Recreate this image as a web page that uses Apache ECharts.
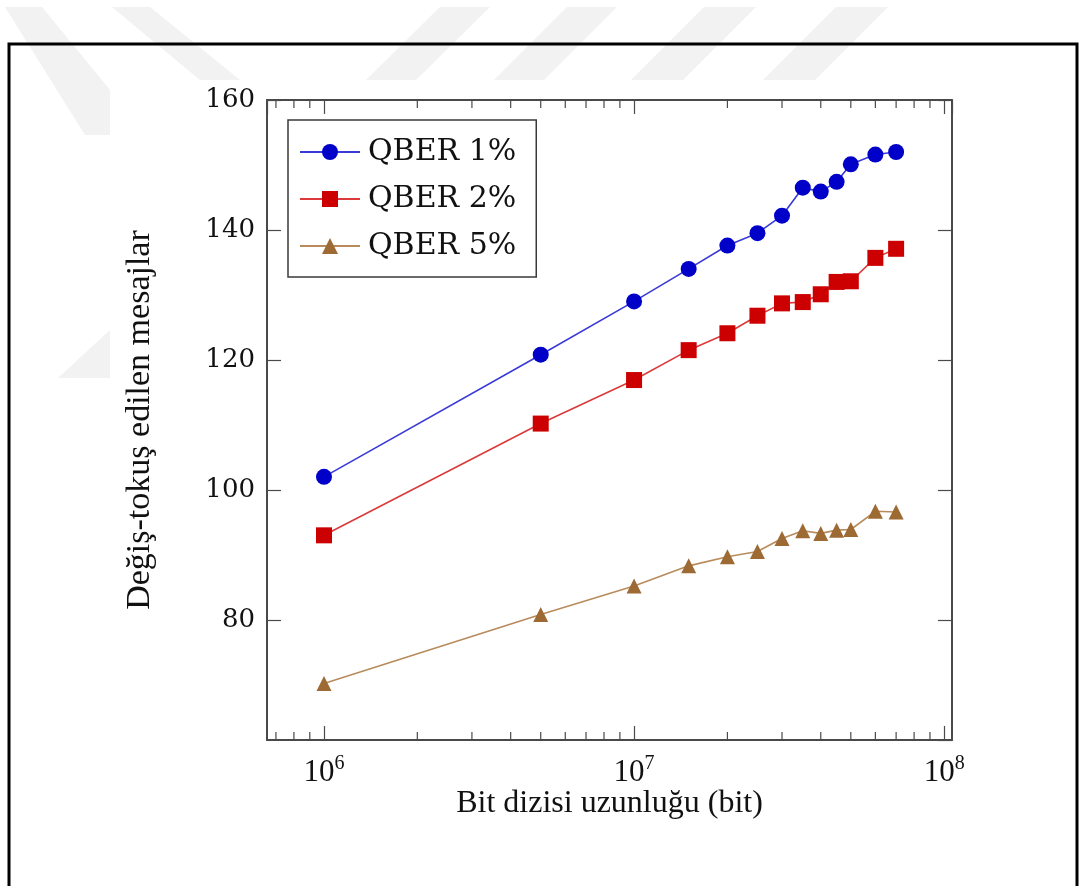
<!DOCTYPE html>
<html>
<head>
<meta charset="utf-8">
<script src="https://cdn.jsdelivr.net/npm/echarts@6/dist/echarts.min.js"></script>
<style>
  html, body { margin: 0; padding: 0; background: #fff; }
  #chart { width: 1086px; height: 886px; }
</style>
</head>
<body>
<div id="chart"></div>
<script>
// veriler
const bitLengths = [1e6, 5e6, 1e7, 1.5e7, 2e7, 2.5e7, 3e7, 3.5e7, 4e7, 4.5e7, 5e7, 6e7, 7e7];
const qber1 = [102.0, 120.8, 129.0, 134.0, 137.6, 139.5, 142.2, 146.5, 145.9, 147.4, 150.1, 151.6, 152.0];
const qber2 = [93.0, 110.2, 116.9, 121.5, 124.1, 126.8, 128.7, 128.9, 130.1, 132.0, 132.1, 135.7, 137.1];
const qber5 = [70.2, 80.8, 85.2, 88.3, 89.7, 90.5, 92.5, 93.7, 93.3, 93.8, 93.9, 96.7, 96.6];
const seriesNames = ['QBER 1%', 'QBER 2%', 'QBER 5%'];
// log eksenin ara (minor) tick degerleri
const minorTicks = [7e5, 8e5, 9e5,
  2e6, 3e6, 4e6, 5e6, 6e6, 7e6, 8e6, 9e6,
  2e7, 3e7, 4e7, 5e7, 6e7, 7e7, 8e7, 9e7];

const X_MIN = 6.55e5, X_MAX = 1.06e8;
const Y_MIN = 61.5, Y_MAX = 160;
const axisColor = '#4a4a4a';
const serif = 'DejaVu Serif';
const times = 'Liberation Serif';
const wm = '#f2f2f2';

const chart = echarts.init(document.getElementById('chart'));

const pair = (ys) => bitLengths.map((x, i) => [x, ys[i]]);

// 1. eksenler (alt/ust, sol/sag) cerceveyi olusturur
const xAxisBase = {
  type: 'log', logBase: 10, min: X_MIN, max: X_MAX,
  axisLine: { show: true, onZero: false, lineStyle: { color: axisColor, width: 2 } },
  axisTick: { show: true, inside: true, length: 14, lineStyle: { color: axisColor, width: 1.2 } },
  splitLine: { show: false }
};
const yAxisBase = {
  type: 'value', min: Y_MIN, max: Y_MAX, splitNumber: 5,
  axisLine: { show: true, lineStyle: { color: axisColor, width: 2 } },
  axisTick: { show: true, inside: true, length: 14, lineStyle: { color: axisColor, width: 1.2 } },
  splitLine: { show: false }
};

const option = {
  animation: false,
  backgroundColor: '#fff',
  graphic: [
    // soluk filigran seritleri
    { type: 'polygon', z: -10, shape: { points: [[5, 7], [42, 7], [110, 90], [110, 135], [85, 135]] }, style: { fill: wm } },
    { type: 'polygon', z: -10, shape: { points: [[112, 7], [150, 7], [240, 80], [200, 80]] }, style: { fill: wm } },
    { type: 'polygon', z: -10, shape: { points: [[440, 7], [490, 7], [416, 80], [366, 80]] }, style: { fill: wm } },
    { type: 'polygon', z: -10, shape: { points: [[567, 7], [617, 7], [544, 80], [494, 80]] }, style: { fill: wm } },
    { type: 'polygon', z: -10, shape: { points: [[704, 7], [756, 7], [683, 80], [631, 80]] }, style: { fill: wm } },
    { type: 'polygon', z: -10, shape: { points: [[836, 7], [888, 7], [815, 80], [763, 80]] }, style: { fill: wm } },
    { type: 'polygon', z: -10, shape: { points: [[110, 330], [110, 378], [58, 378]] }, style: { fill: wm } },
    // dis siyah cerceve
    { type: 'rect', z: -5, shape: { x: 9, y: 44, width: 1068, height: 900 }, style: { fill: 'none', stroke: '#000', lineWidth: 3 } }
  ],
  grid: { left: 267, right: 134, top: 100, bottom: 146 },
  legend: {
    data: seriesNames,
    orient: 'vertical',
    left: 288, top: 120,
    padding: [16, 20, 15, 11],
    itemWidth: 60, itemHeight: 20, itemGap: 15,
    borderColor: '#3a3a3a', borderWidth: 1.5,
    backgroundColor: '#fff',
    textStyle: { fontFamily: serif, fontSize: 30, lineHeight: 32, color: '#111', padding: [0, 0, 0, 3] }
  },
  xAxis: [
    Object.assign({}, xAxisBase, {
      position: 'bottom',
      name: 'Bit dizisi uzunluğu (bit)',
      nameLocation: 'middle', nameGap: 48, nameMoveOverlap: false,
      nameTextStyle: { fontFamily: times, fontSize: 32, color: '#111' },
      axisLabel: {
        show: true, margin: 14, showMinLabel: false, showMaxLabel: false,
        formatter: (v) => {
          const e = Math.log10(v);
          if (Math.abs(e - Math.round(e)) > 1e-6) return '';
          return '{b|10}{s|' + Math.round(e) + '}';
        },
        rich: {
          b: { fontFamily: times, fontSize: 31, lineHeight: 34, color: '#111', verticalAlign: 'bottom' },
          s: { fontFamily: times, fontSize: 20, lineHeight: 34, color: '#111', verticalAlign: 'top' }
        }
      }
    }),
    Object.assign({}, xAxisBase, { position: 'top', axisLabel: { show: false } })
  ],
  yAxis: [
    Object.assign({}, yAxisBase, {
      position: 'left',
      name: 'Değiş-tokuş edilen mesajlar',
      nameLocation: 'middle', nameGap: 110,
      nameTextStyle: { fontFamily: times, fontSize: 34, color: '#111' },
      axisLabel: {
        show: true, margin: 12, showMinLabel: false,
        fontFamily: serif, fontSize: 26, color: '#111',
        formatter: (v) => (v % 20 === 0 ? String(v) : '')
      }
    }),
    Object.assign({}, yAxisBase, { position: 'right', axisLabel: { show: false } })
  ],
  series: [
    {
      name: seriesNames[0], type: 'line', data: pair(qber1),
      symbol: 'circle', symbolSize: 16,
      itemStyle: { color: '#0000c8' },
      lineStyle: { color: '#3a3ad8', width: 1.6 }
    },
    {
      name: seriesNames[1], type: 'line', data: pair(qber2),
      symbol: 'rect', symbolSize: 16,
      itemStyle: { color: '#cc0000' },
      lineStyle: { color: '#dc3a3a', width: 1.6 }
    },
    {
      name: seriesNames[2], type: 'line', data: pair(qber5),
      symbol: 'triangle', symbolSize: 15,
      itemStyle: { color: '#9c6a32' },
      lineStyle: { color: '#b88b5c', width: 1.6 }
    },
    {
      // log eksen ara tickleri (alt ve ust)
      type: 'custom', silent: true, clip: false,
      data: minorTicks.map((v) => [v, Y_MIN]),
      renderItem: (params, api) => {
        const cs = params.coordSys;
        const x = api.coord([api.value(0), Y_MIN])[0];
        const style = { stroke: axisColor, lineWidth: 1.2 };
        return {
          type: 'group',
          children: [
            { type: 'line', shape: { x1: x, y1: cs.y + cs.height, x2: x, y2: cs.y + cs.height - 8 }, style },
            { type: 'line', shape: { x1: x, y1: cs.y, x2: x, y2: cs.y + 8 }, style }
          ]
        };
      }
    }
  ]
};

chart.setOption(option);
</script>
</body>
</html>
